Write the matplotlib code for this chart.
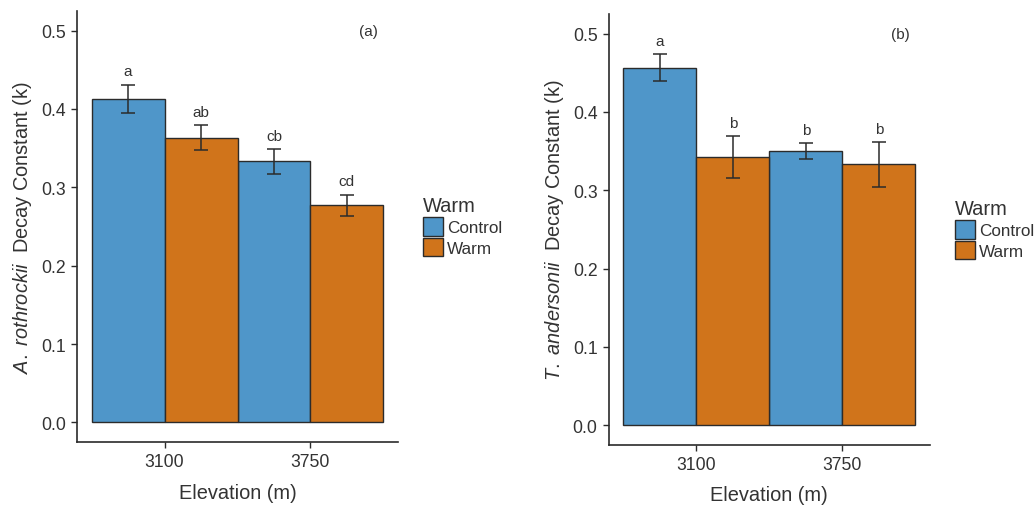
import numpy as np
import matplotlib
matplotlib.use("Agg")
import matplotlib.pyplot as plt
from matplotlib.patches import Patch

plt.rcParams["font.family"] = ["Liberation Sans", "DejaVu Sans"]
plt.rcParams["mathtext.fontset"] = "custom"
plt.rcParams["mathtext.rm"] = "Liberation Sans"
plt.rcParams["mathtext.it"] = "Liberation Sans:italic"

elevations = ["3100", "3750"]
treatments = ["Control", "Warm"]

# panel (a) A. rothrockii
a_mean = [[0.413, 0.333], [0.363, 0.277]]
a_low = [[0.395, 0.3175], [0.348, 0.2635]]
a_high = [[0.431, 0.349], [0.379, 0.2905]]
a_letters = [["a", "cb"], ["ab", "cd"]]

# panel (b) T. andersonii
b_mean = [[0.456, 0.3495], [0.342, 0.3333]]
b_low = [[0.4395, 0.340], [0.315, 0.304]]
b_high = [[0.474, 0.360], [0.3695, 0.3615]]
b_letters = [["a", "b"], ["b", "b"]]

colors = ["#4f96c9", "#d0741b"]
edge = "#2b2b2b"
txt = "#333333"

W, H = 1035, 506
fig = plt.figure(figsize=(W / 100, H / 100), dpi=100)


def panel(rect, mean, low, high, letters, species, tag, leg_xy):
    ax = fig.add_axes(rect)
    x = np.arange(1, len(elevations) + 1)
    for i, t in enumerate(treatments):
        xi = x + (i - 0.5) * 0.5
        ax.bar(xi, mean[i], width=0.5, color=colors[i], edgecolor=edge,
               linewidth=1.0, zorder=2)
        yerr = [np.array(mean[i]) - np.array(low[i]),
                np.array(high[i]) - np.array(mean[i])]
        ax.errorbar(xi, mean[i], yerr=yerr, fmt="none", ecolor=edge,
                    elinewidth=1.1, capsize=4.8, capthick=1.1, zorder=3)
        for xx, hh, lab in zip(xi, high[i], letters[i]):
            ax.text(xx, hh + 0.008, lab, ha="center", va="bottom",
                    fontsize=11, color=txt)
    ax.text(2.4, 0.5, tag, ha="center", va="center", fontsize=11, color=txt)
    ax.set_xlim(0.4, 2.6)
    ax.set_ylim(-0.025, 0.525)
    ax.set_xticks(x)
    ax.set_xticklabels(elevations)
    ax.set_yticks([0.0, 0.1, 0.2, 0.3, 0.4, 0.5])
    ax.set_yticklabels(["0.0", "0.1", "0.2", "0.3", "0.4", "0.5"])
    ax.tick_params(labelsize=12.7, colors=edge, labelcolor=txt, length=4,
                   width=1.0, pad=4)
    for s in ["top", "right"]:
        ax.spines[s].set_visible(False)
    for s in ["left", "bottom"]:
        ax.spines[s].set_color(edge)
        ax.spines[s].set_linewidth(1.2)
    ax.set_xlabel("Elevation (m)", fontsize=14.4, color=txt, labelpad=9)
    ax.set_ylabel(species + "  Decay Constant (k)", fontsize=14.4,
                  color=txt, labelpad=5)
    handles = [Patch(facecolor=c, edgecolor=edge, linewidth=1.0) for c in colors]
    leg = ax.legend(handles, treatments, title="Warm", loc="upper left",
                    bbox_to_anchor=leg_xy, bbox_transform=fig.transFigure,
                    frameon=False, fontsize=12.3, title_fontsize=14.4,
                    handlelength=1.15, handleheight=1.3, handletextpad=0.25,
                    labelspacing=0.12, borderpad=0, borderaxespad=0,
                    alignment="left")
    leg.get_title().set_color(txt)
    for t in leg.get_texts():
        t.set_color(txt)
    return ax


panel([77 / W, 1 - 443 / H, 321 / W, 431 / H], a_mean, a_low, a_high,
      a_letters, r"$\it{A.\ rothrockii}$", "(a)", (423 / W, 1 - 197 / H))
panel([608.7 / W, 1 - 445.7 / H, 321.3 / W, 430.7 / H], b_mean, b_low, b_high,
      b_letters, r"$\it{T.\ andersonii}$", "(b)", (955 / W, 1 - 200 / H))

fig.savefig("out.png", dpi=100)
